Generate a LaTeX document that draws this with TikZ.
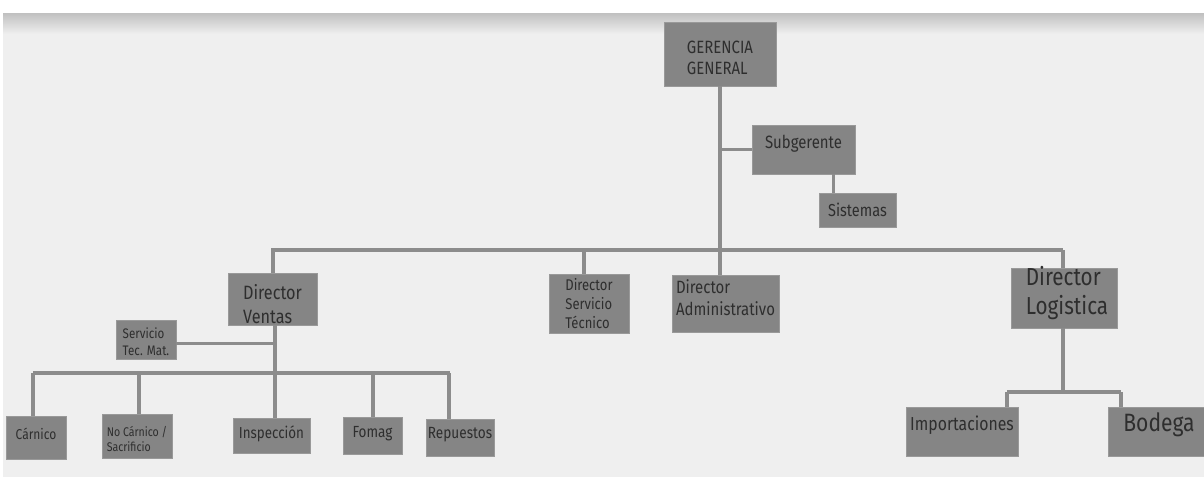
\documentclass[tikz,border=0pt]{standalone}
\usepackage{fontspec}
\setmainfont[FakeStretch=0.84]{Fira Sans}
\newcommand{\fsz}[1]{\fontsize{#1}{1.2\dimexpr #1pt\relax}\selectfont}
\definecolor{bgpanel}{HTML}{EFEFEF}
\definecolor{bgshade}{HTML}{C0C0C0}
\definecolor{boxfill}{HTML}{858585}
\definecolor{boxedge}{HTML}{999999}
\definecolor{linkcol}{HTML}{8C8C8C}
\definecolor{labelcol}{HTML}{2E2E2E}
\tikzset{
  unit/.style={draw=boxedge, line width=0.8pt, fill=boxfill, inner sep=0pt},
  txt/.style={text=labelcol, align=left, inner sep=0pt},
  link/.style={draw=linkcol, line width=3.6pt},
  sublink/.style={draw=linkcol, line width=3pt},
}
\begin{document}
\begin{tikzpicture}[x=1pt,y=-1pt]
% page and backdrop
\fill[white] (0,0) rectangle (1204,483);
\useasboundingbox (0,0) rectangle (1204,483);
\fill[bgpanel] (3,13) rectangle (1204,477);
\shade[top color=bgshade, bottom color=bgpanel] (3,13) rectangle (1204,34);

% boxes
\node[unit, minimum width=112, minimum height=64] (gg) at (720,54) {};
\node[unit, minimum width=103, minimum height=49] (sub) at (803.5,149.5) {};
\node[unit, minimum width=77, minimum height=34] (sis) at (857.5,210) {};
\node[unit, minimum width=89, minimum height=52] (ven) at (272.5,299) {};
\node[unit, minimum width=80, minimum height=59] (dst) at (589,303.5) {};
\node[unit, minimum width=107, minimum height=57] (adm) at (725.5,303.5) {};
\node[unit, minimum width=106, minimum height=60] (log) at (1064,298) {};
\node[unit, minimum width=60, minimum height=39] (stm) at (146,339.5) {};
\node[unit, minimum width=60, minimum height=43] (car) at (36,437.5) {};
\node[unit, minimum width=70, minimum height=44] (noc) at (137,436) {};
\node[unit, minimum width=77, minimum height=35] (ins) at (271.5,435.5) {};
\node[unit, minimum width=59, minimum height=37] (fom) at (372.5,435.5) {};
\node[unit, minimum width=68, minimum height=37] (rep) at (460,437.5) {};
\node[unit, minimum width=112, minimum height=49] (imp) at (962,431.5) {};
\node[unit, minimum width=98, minimum height=49] (bod) at (1157,431.5) {};

% labels
\node[txt, font=\fsz{17.8}] at ([yshift=-4]gg.center) {GERENCIA\\GENERAL};
\node[txt, font=\fsz{17.8}] at ([yshift=6]sub.center) {Subgerente};
\node[txt, font=\fsz{17.3}] at (sis.center) {Sistemas};
\node[txt, font=\fsz{19.3}] at ([yshift=-5]ven.center) {Director\\Ventas};
\node[txt, font=\fsz{15.5}] at (dst.center) {Director\\Servicio\\Técnico};
\node[txt, font=\fsz{17.8}] at ([yshift=6]adm.center) {Director\\Administrativo};
\node[txt, font=\fsz{24.6}] at ([xshift=3,yshift=5]log.center) {Director\\Logistica};
\node[txt, font=\fsz{13.8}] at ([yshift=-2]stm.center) {Servicio\\Tec. Mat.};
\node[txt, font=\fsz{14.3}] at ([yshift=4]car.center) {Cárnico};
\node[txt, font=\fsz{12.6}] at ([yshift=-3]noc.center) {No Cárnico /\\Sacrificio};
\node[txt, font=\fsz{15.9}] at ([yshift=2]ins.center) {Inspección};
\node[txt, font=\fsz{16.1}] at ([yshift=2]fom.center) {Fomag};
\node[txt, font=\fsz{16.2}] at ([yshift=3]rep.center) {Repuestos};
\node[txt, font=\fsz{18.8}] at ([yshift=6]imp.center) {Importaciones};
\node[txt, font=\fsz{25.1}] at ([xshift=2,yshift=7]bod.center) {Bodega};

% junction points of the connector lines
\coordinate (top) at (720,250);
\coordinate (sisj) at (833,0);
\coordinate (ventj) at (275,373);
\coordinate (stmj) at (275,343);
\coordinate (salesL) at (33,373);
\coordinate (salesR) at (450,373);
\coordinate (logj) at (1063,392);
\coordinate (logL) at (1007,392);
\coordinate (logR) at (1121,392);

% upper tree
\draw[link] (gg.south) -- (top);
\draw[sublink] (gg.south |- sub.west) -- (sub.west);
\draw[sublink] (sub.south -| sisj) -- (sis.north -| sisj);
\draw[link] (top -| 271,0) -- (top -| 1063,0);
\draw[link] (top -| 273,0) -- (ven.north -| 273,0);
\draw[link] (top -| 584,0) -- (dst.north -| 584,0);
\draw[link] (top) -- (adm.north -| top);
\draw[link] (top -| 1063,0) -- (log.north -| 1063,0);

% sales branch
\draw[link] (ventj |- ven.south) -- (ventj);
\draw[sublink] (stmj -| stm.east) -- (stmj);
\draw[link] (salesL) -- (salesR);
\draw[link] (salesL) -- (car.north -| salesL);
\draw[link] (ventj -| 139,0) -- (noc.north -| 139,0);
\draw[link] (ventj) -- (ins.north -| ventj);
\draw[link] (ventj -| 373,0) -- (fom.north -| 373,0);
\draw[link] (ventj -| 449,0) -- (rep.north -| 449,0);

% logistics branch
\draw[link] (log.south -| logj) -- (logj);
\draw[link] (logL) -- (logR);
\draw[link] (logL) -- (imp.north -| logL);
\draw[link] (logR) -- (bod.north -| logR);
\end{tikzpicture}
\end{document}
